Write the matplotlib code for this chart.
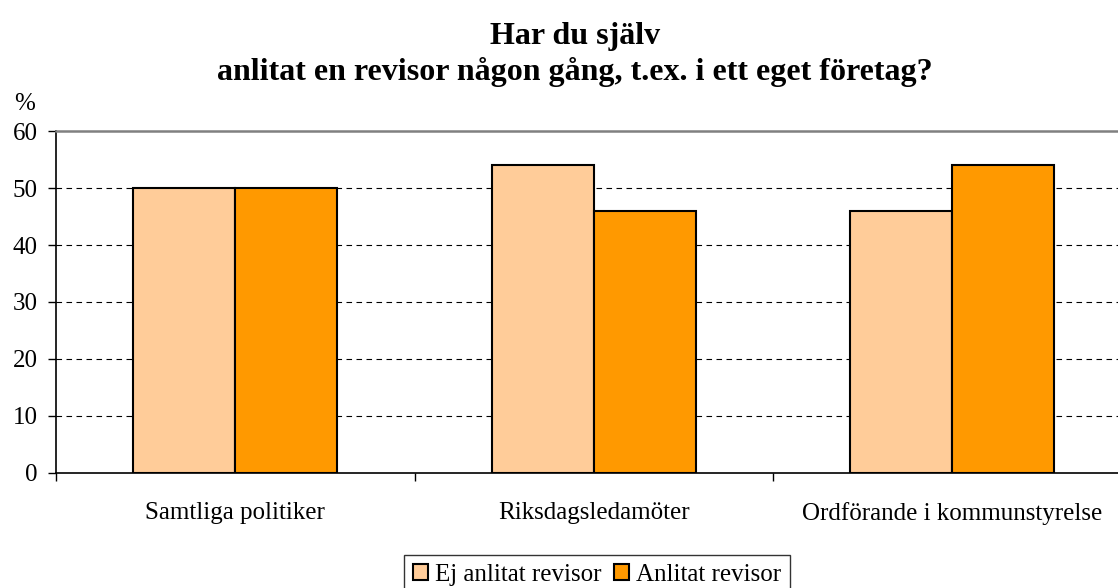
import numpy as np
import matplotlib
matplotlib.use('Agg')
import matplotlib.pyplot as plt

# data
kategorier = ['Samtliga politiker', 'Riksdagsledamöter', 'Ordförande i kommunstyrelse']
ej_anlitat = [50, 54, 46]
anlitat = [50, 46, 54]
serier = ['Ej anlitat revisor', 'Anlitat revisor']
farger = ['#FFCC99', '#FF9900']
y_ticks = [0, 10, 20, 30, 40, 50, 60]

plt.rcParams['font.family'] = ['Liberation Serif', 'DejaVu Serif']

fig = plt.figure(figsize=(11.18, 5.88), dpi=100)
ax = fig.add_axes([0.0501, 0.1956, 0.962, 0.5816])

x = np.arange(len(kategorier))
width = 0.285
ax.bar(x - width / 2, ej_anlitat, width=width, color=farger[0], edgecolor='black',
       linewidth=1.5, label=serier[0], zorder=3)
ax.bar(x + width / 2, anlitat, width=width, color=farger[1], edgecolor='black',
       linewidth=1.5, label=serier[1], zorder=3)

ax.set_xlim(-0.5, len(kategorier) - 0.5)
ax.set_ylim(0, 60)
ax.set_yticks(y_ticks)
ax.tick_params(axis='y', labelsize=18, direction='out', length=6, width=1, pad=7)

# kategorigränser som ticks, etiketter på minor ticks
ax.set_xticks(np.arange(len(kategorier) + 1) - 0.5)
ax.set_xticklabels([])
ax.tick_params(axis='x', which='major', direction='out', length=6, width=1)
ax.set_xticks(x, minor=True)
ax.set_xticklabels(kategorier, minor=True)
ax.tick_params(axis='x', which='minor', length=0, labelsize=18, pad=21)

for v in y_ticks[1:-1]:
    ax.axhline(v, color='black', linewidth=0.8, linestyle=(0, (5, 4)), zorder=1)

ax.spines['top'].set_color('#808080')
ax.spines['top'].set_linewidth(1.8)
ax.spines['right'].set_visible(False)
ax.spines['left'].set_linewidth(1.2)
ax.spines['bottom'].set_linewidth(1.2)

fig.text(575 / 1118, 1 - 44 / 588, 'Har du själv', ha='center', va='baseline',
         fontsize=23, fontweight='bold')
fig.text(575 / 1118, 1 - 80 / 588, 'anlitat en revisor någon gång, t.ex. i ett eget företag?',
         ha='center', va='baseline', fontsize=23, fontweight='bold')
fig.text(14 / 1118, 1 - 110 / 588, '%', ha='left', va='baseline', fontsize=18)

leg = ax.legend(loc='upper center', bbox_to_anchor=(597 / 1118, 1 - 555 / 588),
                bbox_transform=fig.transFigure, ncol=2, frameon=True, fancybox=False,
                edgecolor='black', fontsize=18, handlelength=0.6, handleheight=0.6,
                handletextpad=0.28, columnspacing=0.5, borderpad=0.35, borderaxespad=0)
leg.get_frame().set_linewidth(1.0)

fig.savefig('out.png', dpi=100)
